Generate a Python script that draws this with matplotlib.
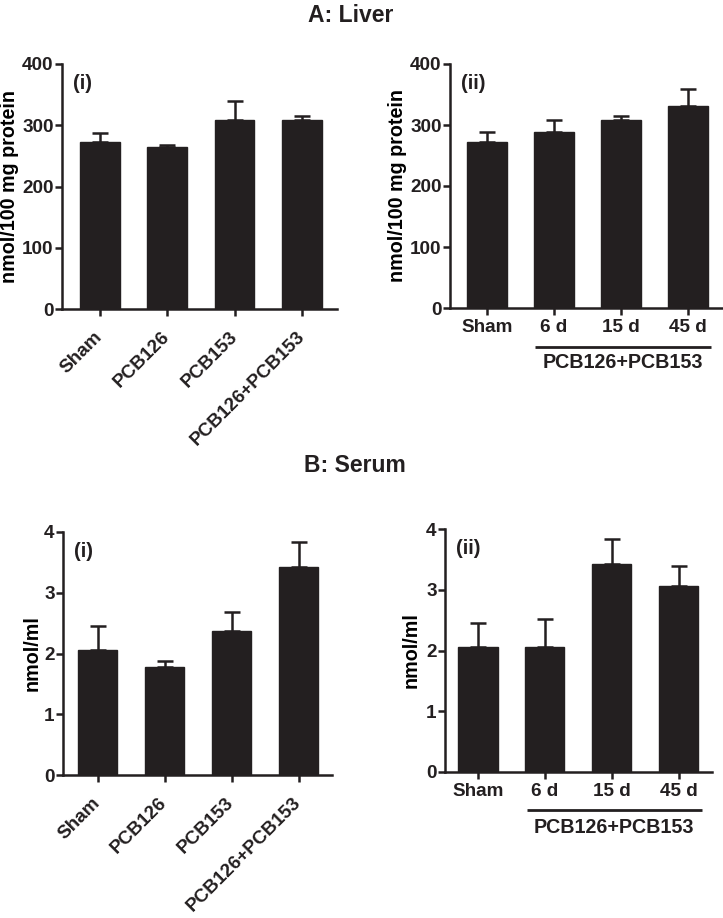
import matplotlib
matplotlib.use("Agg")
import matplotlib.pyplot as plt
import matplotlib.transforms as mtransforms

plt.rcParams['font.family'] = ['Liberation Sans', 'DejaVu Sans']
plt.rcParams['font.weight'] = 'bold'

# Data
treat_labels = ['Sham', 'PCB126', 'PCB153', 'PCB126+PCB153']
time_labels = ['Sham', '6 d', '15 d', '45 d']

liver_treat_mean = [272, 264, 309, 308]
liver_treat_err = [16, 3, 30, 7]
liver_time_mean = [272, 289, 308, 331]
liver_time_err = [16, 19, 7, 28]

serum_treat_mean = [2.05, 1.78, 2.37, 3.42]
serum_treat_err = [0.40, 0.10, 0.32, 0.42]
serum_time_mean = [2.05, 2.05, 3.42, 3.06]
serum_time_err = [0.40, 0.47, 0.42, 0.33]

BAR_COLOR = '#231f20'
W, H = 723, 918
FS = 13.6
FS_LABEL = 14.2

fig = plt.figure(figsize=(W / 100, H / 100), dpi=100)


def add_axes_px(x0, y0, x1, y1):
    # pixel box (top-left origin) -> figure fraction
    return fig.add_axes([x0 / W, 1 - y1 / H, (x1 - x0) / W, (y1 - y0) / H])


def bar_panel(ax, means, errs, labels, ymax, step, ylabel, tag, xlim, rotate):
    x = range(len(means))
    ax.bar(x, means, width=0.59, color=BAR_COLOR, edgecolor=BAR_COLOR, zorder=2)
    ax.errorbar(x, means, yerr=[[0] * len(errs), errs], fmt='none',
                ecolor=BAR_COLOR, elinewidth=1.8, capsize=6, capthick=1.8, zorder=1)
    ax.set_xlim(*xlim)
    ax.set_ylim(0, ymax)
    n = int(round(ymax / step)) + 1
    ax.set_yticks([i * step for i in range(n)])
    ax.set_yticklabels([f"{i * step:g}" for i in range(n)],
                       fontsize=FS, fontweight='bold')
    ax.set_xticks(list(x))
    if rotate:
        ax.set_xticklabels(labels, rotation=45, ha='right', va='center',
                           rotation_mode='anchor', fontsize=FS, fontweight='bold')
        ax.tick_params(axis='x', pad=13)
    else:
        ax.set_xticklabels(labels, fontsize=FS, fontweight='bold')
        ax.tick_params(axis='x', pad=3)
    ax.set_ylabel(ylabel, fontsize=FS_LABEL, fontweight='bold')
    for s in ['top', 'right']:
        ax.spines[s].set_visible(False)
    for s in ['left', 'bottom']:
        ax.spines[s].set_linewidth(1.8)
        ax.spines[s].set_color(BAR_COLOR)
    ax.tick_params(axis='both', direction='out', length=5, width=1.8, colors=BAR_COLOR)
    ax.tick_params(axis='y', pad=1)
    ax.text(0.04, 0.96, tag, transform=ax.transAxes, fontsize=FS + 1,
            fontweight='bold', ha='left', va='top', color=BAR_COLOR)


def group_bracket(ax, x0, x1, y_line, y_text, text):
    trans = mtransforms.blended_transform_factory(ax.transData, ax.transAxes)
    ax.plot([x0, x1], [y_line, y_line], transform=trans, color=BAR_COLOR,
            lw=2, clip_on=False, solid_capstyle='butt')
    ax.text((x0 + x1) / 2, y_text, text, transform=trans, ha='center', va='center',
            fontsize=FS_LABEL, fontweight='bold', color=BAR_COLOR)


# A: Liver
ax1 = add_axes_px(62, 64, 337, 309)
bar_panel(ax1, liver_treat_mean, liver_treat_err, treat_labels, 400, 100,
          'nmol/100 mg protein', '(i)', (-0.56, 3.52), True)
ax1.yaxis.labelpad = 2

ax2 = add_axes_px(450, 64, 722, 308)
bar_panel(ax2, liver_time_mean, liver_time_err, time_labels, 400, 100,
          'nmol/100 mg protein', '(ii)', (-0.55, 3.51), False)
ax2.yaxis.labelpad = 2
group_bracket(ax2, 0.72, 3.34, -0.16, -0.222, 'PCB126+PCB153')

# B: Serum
ax3 = add_axes_px(63, 532, 332, 775)
bar_panel(ax3, serum_treat_mean, serum_treat_err, treat_labels, 4, 1,
          'nmol/ml', '(i)', (-0.515, 3.5), True)
ax3.yaxis.labelpad = 2

ax4 = add_axes_px(445, 529, 712, 772)
bar_panel(ax4, serum_time_mean, serum_time_err, time_labels, 4, 1,
          'nmol/ml', '(ii)', (-0.49, 3.5), False)
ax4.yaxis.labelpad = 4
group_bracket(ax4, 0.73, 3.35, -0.155, -0.229, 'PCB126+PCB153')

fig.text(351 / W, 1 - 15 / H, 'A: Liver', ha='center', va='center',
         fontsize=16.5, fontweight='bold', color=BAR_COLOR)
fig.text(355 / W, 1 - 465 / H, 'B: Serum', ha='center', va='center',
         fontsize=16.5, fontweight='bold', color=BAR_COLOR)

fig.savefig('out.png', dpi=100, facecolor='white')
